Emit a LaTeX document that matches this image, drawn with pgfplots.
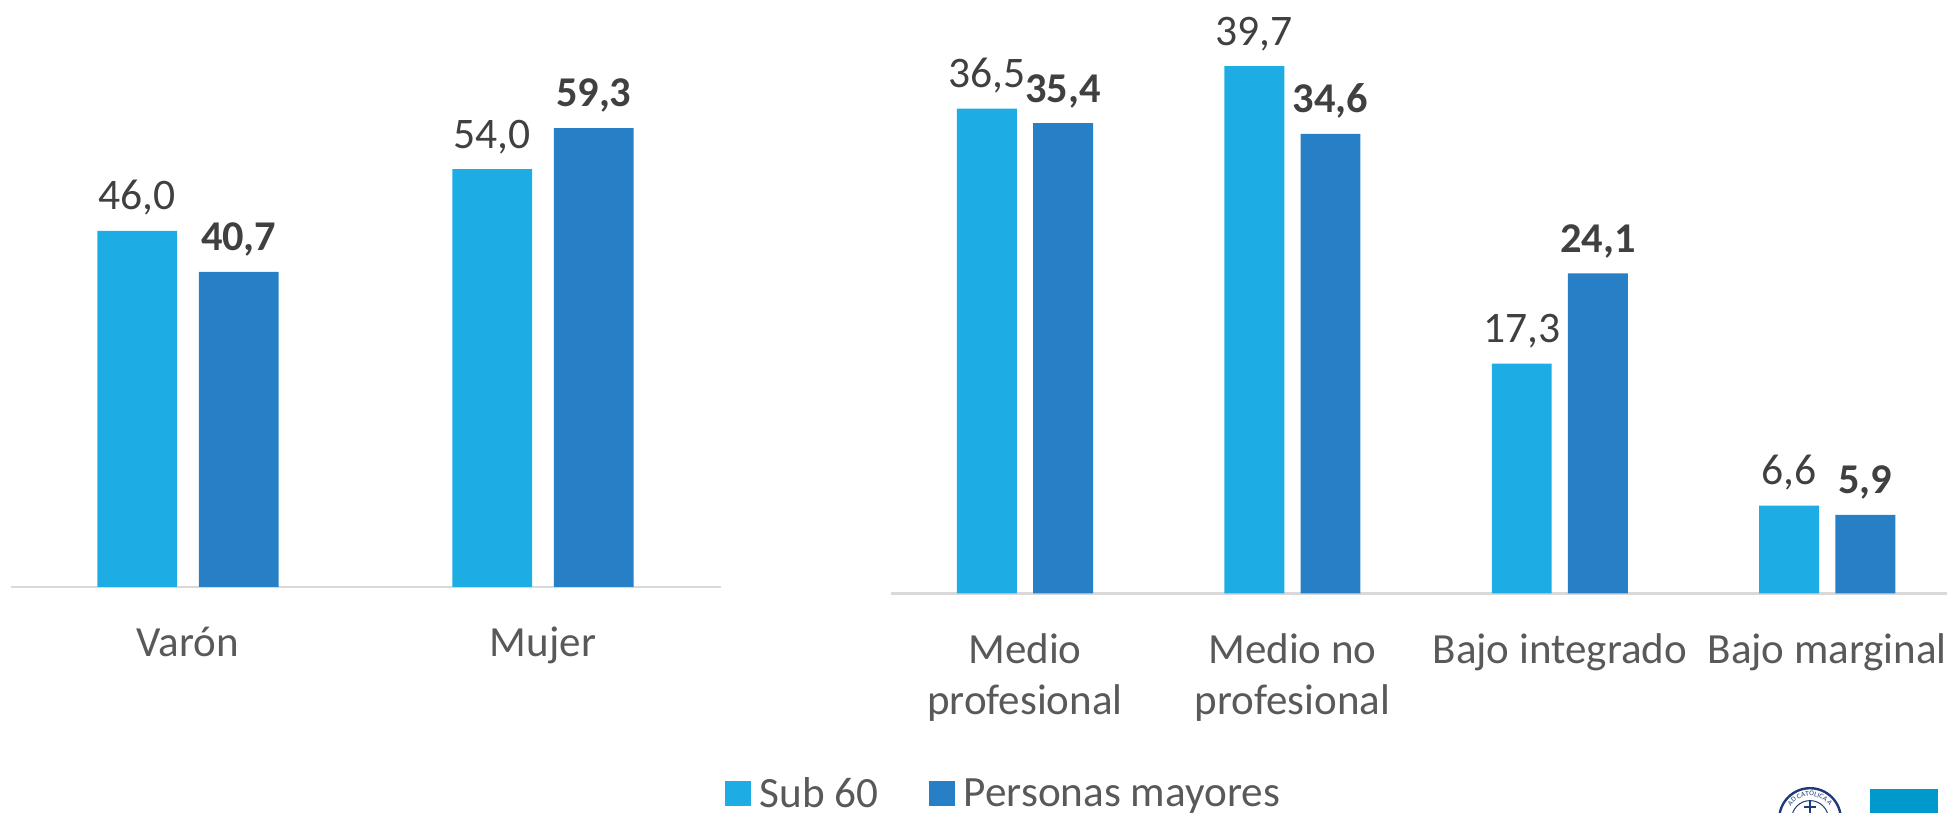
\documentclass[border=0pt]{standalone}
\usepackage{pgfplots}
\pgfplotsset{compat=1.18}
\usepackage{fontspec}
\setmainfont{Carlito}
\usetikzlibrary{decorations.text}
\definecolor{lightb}{HTML}{1DADE4}
\definecolor{darkb}{HTML}{2780C5}
\definecolor{vallab}{HTML}{404040}
\definecolor{catlab}{HTML}{595959}
\definecolor{axisl}{HTML}{D9D9D9}
\definecolor{logoblue}{HTML}{0099CC}
\definecolor{navy}{HTML}{1F3A7A}
\pgfplotsset{
  common/.style={
    scale only axis,
    anchor=south west,
    clip=false,
    ymin=0,
    axis x line*=bottom,
    axis y line=none,
    axis line style={draw=axisl,line width=1.2pt,-},
    xtick=data,
    major tick length=0pt,
    xtick style={draw=none},
    ybar,
    /pgf/number format/assume math mode=true,
    /pgf/number format/.cd,use comma,fixed,fixed zerofill,precision=1,1000 sep={},
    /pgfplots/.cd,
    xticklabel style={font=\fontsize{21.5}{25.5}\selectfont,text=catlab,align=center,anchor=north,inner sep=0pt},
    nodes near coords,
    every node near coord/.append style={/pgf/number format/assume math mode=true,text=vallab,font=\fontsize{21.8}{24}\selectfont,inner sep=0pt,anchor=south,yshift=7.5pt},
  },
  sub/.style={fill=lightb,draw=none,legend image code/.code={\fill[##1] (0pt,-6.25pt) rectangle (13pt,6.25pt);}},
  may/.style={fill=darkb,draw=none,legend image code/.code={\fill[##1] (0pt,-6.25pt) rectangle (13pt,6.25pt);},every node near coord/.append style={font=\fontsize{21.2}{24}\selectfont\bfseries}},
}
\begin{document}
\begin{tikzpicture}
\useasboundingbox (0,0) rectangle (973.5pt,406.5pt);
\begin{axis}[common,
  at={(5.25pt,113pt)},
  width=355pt,height=270.9pt,
  xmin=-0.5,xmax=1.5,ymax=70,
  bar width=39.85pt,
  xticklabels={Varón,Mujer},
  xticklabel style={yshift=-20pt},
]
\addplot[sub,bar shift=-25.35pt] coordinates {(0,46.0) (1,54.0)};
\addplot[may,bar shift=25.35pt] coordinates {(0,40.7) (1,59.3)};
\end{axis}
\begin{axis}[common,
  at={(445.65pt,109.85pt)},
  width=527.85pt,height=292.16pt,
  xmin=-0.5,xmax=3.448,ymax=44,
  bar width=29.95pt,
  xticklabels={Medio\\profesional,Medio no\\profesional,Bajo integrado,Bajo marginal},
  xticklabel style={yshift=-20pt},
  legend columns=2,
  legend style={draw=none,fill=none,at={(-0.158,-0.343)},anchor=west,inner sep=0pt,
    font=\fontsize{21.6}{24}\selectfont\color{catlab},
    /tikz/every odd column/.style={column sep=2.3pt},
    /tikz/every even column/.style={column sep=23.5pt}},
]
\addplot[sub,bar shift=-19.05pt] coordinates {(0,36.5) (1,39.7) (2,17.3) (3,6.6)};
\addlegendentry{Sub 60}
\addplot[may,bar shift=19.05pt] coordinates {(0,35.4) (1,34.6) (2,24.1) (3,5.9)};
\addlegendentry{Personas mayores}
\end{axis}
% logo fragment at the lower right
\begin{scope}
\clip (0,0) rectangle (973.5pt,406.5pt);
\fill[logoblue] (935pt,0pt) rectangle (969pt,12pt);
\draw[navy,line width=1.2pt] (905pt,-3pt) circle (15.4pt);
\draw[navy,line width=0.5pt] (905pt,-3pt) circle (9.2pt);
\draw[navy,line width=0.7pt] (905pt,-3pt) -- (905pt,6.5pt) (902pt,3pt) -- (908pt,3pt);
\path[decorate,decoration={text along path,text align=center,text={|\fontsize{3.6}{4}\selectfont\color{navy}|AD CATOLICA A}}]
  (893.5pt,-3pt) arc[start angle=180,end angle=0,radius=11.5pt];
\end{scope}
\end{tikzpicture}
\end{document}
